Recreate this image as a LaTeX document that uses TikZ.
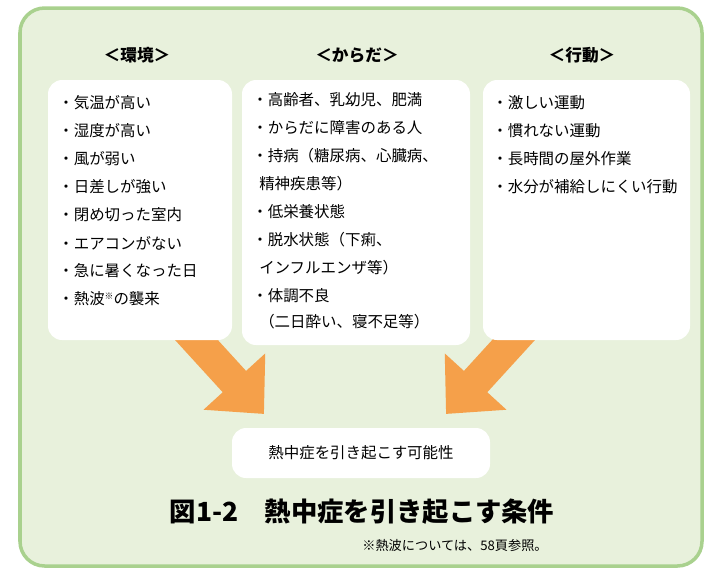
\documentclass[tikz,border=0pt]{standalone}
\usepackage{fontspec}
\newfontfamily\jp{Noto Sans CJK JP}
\usetikzlibrary{arrows.meta}
\definecolor{frameG}{HTML}{A9D18E}
\definecolor{fillG}{HTML}{E8F1DC}
\definecolor{arrO}{HTML}{F5A04A}
\tikzstyle{arr}=[-{Triangle[length=25pt,width=46pt]},line width=18pt,draw=arrO]

\begin{document}
\begin{tikzpicture}[x=0.02cm,y=-0.02cm,font=\jp\fontsize{8.8}{10}\selectfont]
  \tikzstyle card=[fill=white,draw=none,rounded corners=8pt];
  \tikzstyle item=[anchor=west,inner sep=0pt];
  \useasboundingbox (0,0) rectangle (720,576);
  \draw[fill=fillG,draw=frameG,line width=2pt,rounded corners=14pt] (20,8) rectangle (702,566);
  \node[font=\jp\fontsize{9.5}{11}\selectfont\bfseries] (hKankyo) at (137,55) {＜環境＞};
  \node[font=\jp\fontsize{9.5}{11}\selectfont\bfseries] (hKarada) at (357,55) {＜からだ＞};
  \node[font=\jp\fontsize{9.5}{11}\selectfont\bfseries] (hKoudou) at (582,55) {＜行動＞};
  \coordinate (arrL) at (180,322);
  \coordinate (arrR) at (530,322);
  \coordinate (tipL) at (264,414);
  \coordinate (tipR) at (446,414);
  \draw[arr] (arrL) -- (tipL);
  \draw[arr] (arrR) -- (tipR);
  \fill[card] (48,80) rectangle (232,340);
  \fill[card] (242,80) rectangle (470,345);
  \fill[card] (483,80) rectangle (690,340);
  \foreach \ly/\ltext [count=\i] in {
    103/・気温が高い,
    131/・湿度が高い,
    159/・風が弱い,
    187/・日差しが強い,
    215/・閉め切った室内,
    243/・エアコンがない,
    271/・急に暑くなった日,
    299/・熱波{\fontsize{5}{6}\selectfont\raisebox{3pt}{※}}の襲来}
  {
    \node[item] (k\i) at (58,\ly) {\ltext};
  }
  \foreach \ly/\ltext [count=\i] in {
    100/・高齢者、乳幼児、肥満,
    128/・からだに障害のある人,
    156/・持病（糖尿病、心臓病、,
    184/\ \ 精神疾患等）,
    212/・低栄養状態,
    240/・脱水状態（下痢、,
    268/\ \ インフルエンザ等）,
    296/・体調不良,
    322/\ \ （二日酔い、寝不足等）}
  {
    \node[item] (b\i) at (252,\ly) {\ltext};
  }
  \foreach \ly/\ltext [count=\i] in {
    103/・激しい運動,
    131/・慣れない運動,
    159/・長時間の屋外作業,
    187/・水分が補給しにくい行動}
  {
    \node[item] (a\i) at (492,\ly) {\ltext};
  }
  \node[card,minimum width=258*0.02cm,minimum height=50*0.02cm] (result) at (361,453) {熱中症を引き起こす可能性};
  \node[font=\jp\fontsize{15}{18}\selectfont\bfseries] (title) at (362,512) {図1-2　熱中症を引き起こす条件};
  \node[font=\jp\fontsize{7.5}{9}\selectfont] (note) at (455,546) {※熱波については、58頁参照。};
\end{tikzpicture}
\end{document}
